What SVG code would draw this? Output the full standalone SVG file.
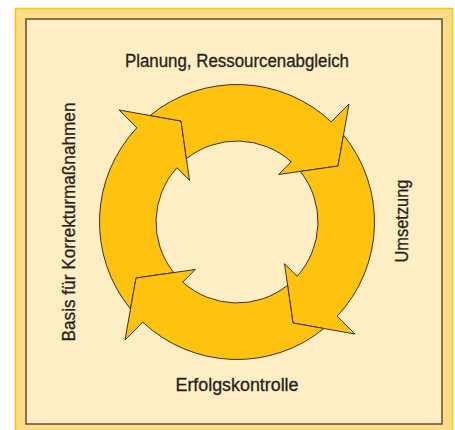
<svg xmlns="http://www.w3.org/2000/svg" xmlns:xlink="http://www.w3.org/1999/xlink" width="455" height="430" viewBox="0 0 455 430">
  <style>
    .frame-outer { fill: #FFDC88; stroke: #FFC20E; stroke-width: 1.6; }
    .frame-inner { fill: #FFEDC4; stroke: #66593F; stroke-width: 1.6; }
    .arrow { fill: #FFC20E; stroke: #3A3122; stroke-width: 1; stroke-linejoin: miter; }
    .label { font-family: "Liberation Sans", Arial, sans-serif; font-size: 18px; fill: #231F20;
             stroke: #231F20; stroke-width: 0.3; text-anchor: middle; }
  </style>
  <defs>
    <!-- One quarter of the cycle: curved shaft with a chevron tail and a wide arrowhead,
         drawn around the origin (ring centre); outer radius 137.5, inner radius 81 -->
    <path id="cycle-arrow" class="arrow"
          d="M -106.5 86.97
             A 137.5 137.5 0 0 1 -100.16 -94.21
             L -118 -112
             L -56 -101
             L -47.5 -41.7
             L -60.12 -54.28
             A 81 81 0 0 0 -63.26 50.59
             L -101 56
             Z"/>
  </defs>

  <!-- background frame -->
  <rect class="frame-outer" x="15.5" y="8.5" width="437" height="430"/>
  <rect class="frame-inner" x="26" y="19" width="416" height="405"/>

  <!-- the four arrows of the control cycle -->
  <g id="connectors" transform="translate(237,222)">
    <use id="arrow-left" xlink:href="#cycle-arrow" href="#cycle-arrow"/>
    <use id="arrow-top" xlink:href="#cycle-arrow" href="#cycle-arrow" transform="rotate(90)"/>
    <use id="arrow-right" xlink:href="#cycle-arrow" href="#cycle-arrow" transform="rotate(180)"/>
    <use id="arrow-bottom" xlink:href="#cycle-arrow" href="#cycle-arrow" transform="rotate(270)"/>
  </g>

  <g id="node-planung">
    <text class="label" x="237" y="67" textLength="224" lengthAdjust="spacingAndGlyphs">Planung, Ressourcenabgleich</text>
  </g>
  <g id="node-umsetzung">
    <text class="label" transform="translate(408,221) rotate(-90)" textLength="83" lengthAdjust="spacingAndGlyphs">Umsetzung</text>
  </g>
  <g id="node-erfolgskontrolle">
    <text class="label" x="237" y="391" textLength="123" lengthAdjust="spacingAndGlyphs">Erfolgskontrolle</text>
  </g>
  <g id="node-korrektur">
    <text class="label" transform="translate(75,222) rotate(-90)" textLength="239" lengthAdjust="spacingAndGlyphs">Basis für Korrekturmaßnahmen</text>
  </g>
</svg>
